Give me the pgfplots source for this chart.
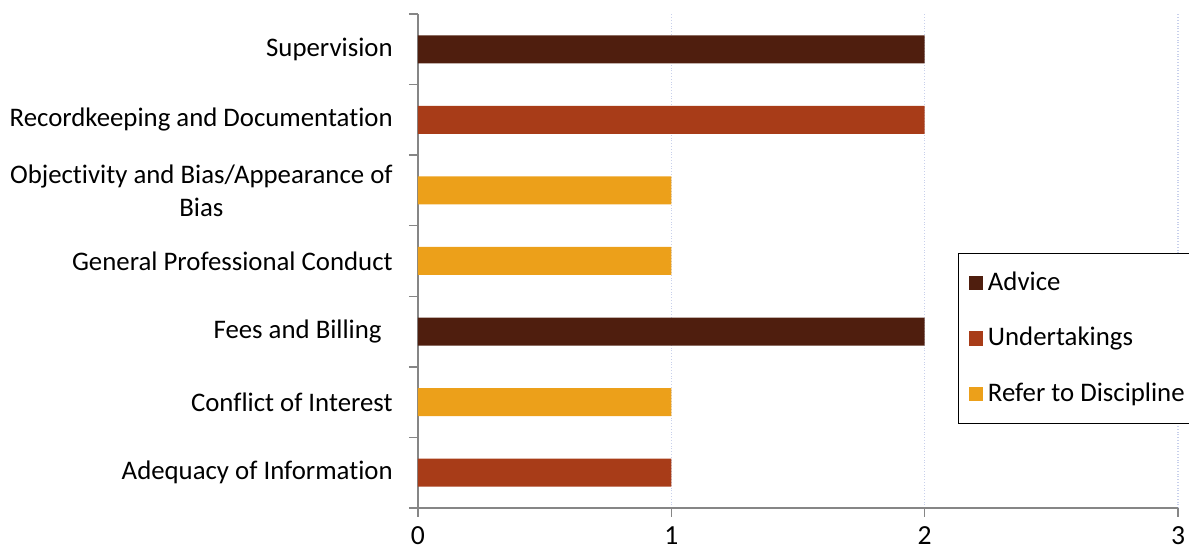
\documentclass[border=0pt]{standalone}
\usepackage{pgfplots}
\pgfplotsset{compat=1.18}
\usepackage{fontspec}
\setmainfont{Carlito}[Ligatures=NoCommon]

\definecolor{advice}{RGB}{79,30,14}
\definecolor{undert}{RGB}{168,60,24}
\definecolor{refer}{RGB}{236,160,26}
\definecolor{axgray}{RGB}{134,134,134}
\definecolor{gridblue}{RGB}{200,208,235}

\begin{document}
\fontsize{13.4}{16.5}\selectfont
\begin{tikzpicture}
\begin{axis}[
    scale only axis,
    width=380pt, height=247pt,
    xbar, bar width=14pt, bar shift=0pt,
    xmin=0, xmax=3, ymin=-0.5, ymax=6.5,
    axis x line*=bottom, axis y line*=left,
    axis line style={axgray, line width=0.75pt},
    tick align=outside,
    major tick length=4.5pt,
    tick style={axgray, line width=0.75pt},
    xtick={0,1,2,3},
    xmajorgrids,
    grid style={gridblue, densely dotted, line width=0.6pt},
    /pgf/number format/assume math mode=true,
    ytick={-0.5,0.5,...,6.5},
    yticklabels={,,,,,,,},
    extra y ticks={0,1,2,3,4,5,6},
    extra y tick labels={Adequacy of Information, Conflict of Interest, Fees and Billing\hspace*{5.5pt}, General Professional Conduct, {Objectivity and Bias/Appearance of\\Bias}, Recordkeeping and Documentation, Supervision},
    extra y tick style={major tick length=0pt, grid=none},
    yticklabel style={align=center, xshift=-8pt},
    xticklabel style={yshift=-3.8pt, font=\fontsize{13.8}{15}\selectfont, inner ysep=1pt},
    legend style={at={(0.7105,0.516)}, anchor=north west, draw=black, line width=0.6pt,
        row sep=12.5pt, inner ysep=7pt, inner xsep=5pt,
        nodes={inner xsep=2.5pt}},
    legend cell align=left,
]
\addplot[fill=advice, draw=none, legend image code/.code={\fill[advice] (0pt,-3.6pt) rectangle (7.2pt,3.6pt);}]
    coordinates {(2,2) (2,6)};
\addlegendentry{Advice}
\addplot[fill=undert, draw=none, legend image code/.code={\fill[undert] (0pt,-3.6pt) rectangle (7.2pt,3.6pt);}]
    coordinates {(1,0) (2,5)};
\addlegendentry{Undertakings}
\addplot[fill=refer, draw=none, legend image code/.code={\fill[refer] (0pt,-3.6pt) rectangle (7.2pt,3.6pt);}]
    coordinates {(1,1) (1,3) (1,4)};
\addlegendentry{Refer to Discipline}
\coordinate (sw) at (rel axis cs:0,0);
\coordinate (ne) at (rel axis cs:1,1);
\end{axis}
\pgfresetboundingbox
\path[use as bounding box] ([xshift=-209pt,yshift=-22pt]sw) rectangle ([xshift=5.5pt,yshift=7pt]ne);
\end{tikzpicture}
\end{document}
